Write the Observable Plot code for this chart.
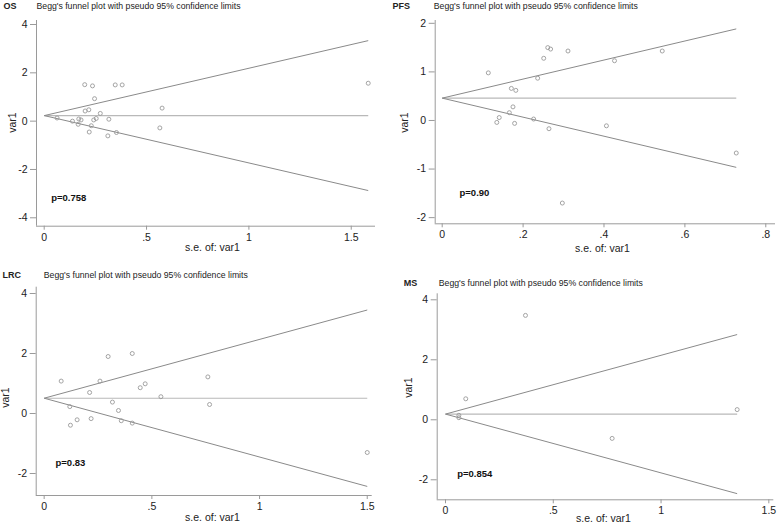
<!DOCTYPE html>
<html>
<head>
<meta charset="utf-8">
<script src="https://cdn.jsdelivr.net/npm/d3@7"></script>
<script src="https://cdn.jsdelivr.net/npm/@observablehq/plot@0.6"></script>
<style>
  html, body { margin: 0; padding: 0; background: #fff; }
  #root { position: relative; width: 778px; height: 523px; overflow: hidden; background: #fff; }
  .panel { position: absolute; }
</style>
</head>
<body>
<div id="root"></div>
<script>
// ---------- data ----------
const titleText = "Begg's funnel plot with pseudo 95% confidence limits";
const xAxisLabel = "s.e. of: var1";
const yAxisLabel = "var1";

// OS
const osSe = [0.063, 0.138, 0.166, 0.169, 0.180, 0.198, 0.200, 0.218, 0.220, 0.230, 0.236, 0.242, 0.246, 0.254, 0.274, 0.311, 0.316, 0.347, 0.353, 0.381, 0.565, 0.576, 1.583];
const osEs = [0.13, 0.00, -0.13, 0.09, 0.05, 1.51, 0.42, 0.47, -0.45, -0.19, 1.46, 0.05, 0.93, 0.11, 0.32, -0.61, 0.08, 1.50, -0.47, 1.50, -0.28, 0.54, 1.57];
const osTheta = 0.23;
const osXTicks = [0, 0.5, 1, 1.5];
const osXTickLabels = ["0", ".5", "1", "1.5"];
const osYTicks = [-4, -2, 0, 2, 4];
const osP = "p=0.758";

// PFS
const pfsSe = [0.114, 0.135, 0.141, 0.166, 0.171, 0.175, 0.179, 0.182, 0.226, 0.236, 0.251, 0.261, 0.264, 0.268, 0.297, 0.311, 0.406, 0.426, 0.544, 0.727];
const pfsEs = [0.98, -0.04, 0.06, 0.16, 0.66, 0.28, -0.06, 0.62, 0.03, 0.87, 1.28, 1.50, -0.17, 1.47, -1.70, 1.43, -0.11, 1.23, 1.43, -0.67];
const pfsTheta = 0.46;
const pfsXTicks = [0, 0.2, 0.4, 0.6, 0.8];
const pfsXTickLabels = ["0", ".2", ".4", ".6", ".8"];
const pfsYTicks = [-2, -1, 0, 1, 2];
const pfsP = "p=0.90";

// LRC
const lrcSe = [0.079, 0.119, 0.122, 0.153, 0.211, 0.218, 0.259, 0.297, 0.317, 0.345, 0.358, 0.409, 0.409, 0.446, 0.469, 0.542, 0.760, 0.768, 1.500];
const lrcEs = [1.08, 0.23, -0.39, -0.21, 0.70, -0.17, 1.08, 1.90, 0.38, 0.10, -0.24, -0.32, 2.00, 0.86, 0.99, 0.56, 1.22, 0.30, -1.30];
const lrcTheta = 0.51;
const lrcXTicks = [0, 0.5, 1, 1.5];
const lrcXTickLabels = ["0", ".5", "1", "1.5"];
const lrcYTicks = [-2, 0, 2, 4];
const lrcP = "p=0.83";

// MS
const msSe = [0.062, 0.062, 0.094, 0.371, 0.773, 1.353];
const msEs = [0.15, 0.07, 0.70, 3.48, -0.62, 0.34];
const msTheta = 0.19;
const msXTicks = [0, 0.5, 1, 1.5];
const msXTickLabels = ["0", ".5", "1", "1.5"];
const msYTicks = [-2, 0, 2, 4];
const msP = "p=0.854";

// ---------- layout (pixels) ----------
const panels = [
  { name: "OS", se: osSe, es: osEs, theta: osTheta, xTicks: osXTicks, xLabels: osXTickLabels, yTicks: osYTicks, p: osP,
    left: 0, top: 0, width: 390, height: 260, mL: 36, mR: 15, mT: 20, mB: 34.3,
    xDomain: [-0.0376, 1.6185], yDomain: [-4.348, 4.166],
    nameAt: [3, 6], titleAt: [36, 6], yLabAt: [12, 122], xLabAt: [212, 247], pAt: [50.7, 197] },
  { name: "PFS", se: pfsSe, es: pfsEs, theta: pfsTheta, xTicks: pfsXTicks, xLabels: pfsXTickLabels, yTicks: pfsYTicks, p: pfsP,
    left: 390, top: 0, width: 388, height: 260, mL: 44.7, mR: 3, mT: 20, mB: 36.7,
    xDomain: [-0.0173, 0.824], yDomain: [-2.127, 2.058],
    nameAt: [2, 6], titleAt: [43.3, 6], yLabAt: [14, 122], xLabAt: [212, 248], pAt: [69, 192.7] },
  { name: "LRC", se: lrcSe, es: lrcEs, theta: lrcTheta, xTicks: lrcXTicks, xLabels: lrcXTickLabels, yTicks: lrcYTicks, p: lrcP,
    left: 0, top: 260, width: 390, height: 263, mL: 35.7, mR: 18.3, mT: 26.7, mB: 28,
    xDomain: [-0.037, 1.523], yDomain: [-2.733, 4.21],
    nameAt: [2, 15], titleAt: [43.3, 15], yLabAt: [5, 137], xLabAt: [212, 257], pAt: [55, 202.3] },
  { name: "MS", se: msSe, es: msEs, theta: msTheta, xTicks: msXTicks, xLabels: msXTickLabels, yTicks: msYTicks, p: msP,
    left: 390, top: 260, width: 388, height: 263, mL: 46.7, mR: 4.7, mT: 33.3, mB: 23.7,
    xDomain: [-0.0385, 1.523], yDomain: [-2.667, 4.2],
    nameAt: [13.3, 22.7], titleAt: [48.3, 22.7], yLabAt: [18, 127], xLabAt: [213, 258], pAt: [66.7, 213.3] }
];

const font = "'Liberation Sans', Arial, sans-serif";
const root = document.getElementById("root");

function label(text, at, P, opts) {
  return Plot.text([text], Object.assign({
    text: d => d,
    frameAnchor: "top-left",
    dx: at[0] - P.mL,
    dy: at[1] - P.mT,
    textAnchor: "start",
    lineAnchor: "middle",
    fill: "#222"
  }, opts));
}

for (const P of panels) {
  const pts = P.se.map((s, i) => ({ se: s, es: P.es[i] }));
  const maxSe = d3.max(P.se);
  const z = 1.96;
  const limits = [
    { kind: "upper", x1: 0, y1: P.theta, x2: maxSe, y2: P.theta + z * maxSe },
    { kind: "lower", x1: 0, y1: P.theta, x2: maxSe, y2: P.theta - z * maxSe },
  ];
  const center = [{ x1: 0, y1: P.theta, x2: maxSe, y2: P.theta }];
  const yFmt = d => (d < 0 ? "-" + Math.abs(d) : String(d));
  const xFmt = d => P.xLabels[P.xTicks.indexOf(d)];

  const chart = Plot.plot({
    width: P.width,
    height: P.height,
    marginLeft: P.mL,
    marginRight: P.mR,
    marginTop: P.mT,
    marginBottom: P.mB,
    style: { fontFamily: font, fontSize: "10px", color: "#222", background: "white", overflow: "visible" },
    x: { domain: P.xDomain, ticks: P.xTicks },
    y: { domain: P.yDomain, ticks: P.yTicks },
    marks: [
      Plot.ruleX([P.xDomain[0]], { stroke: "#9a9a9a", strokeWidth: 1 }),
      Plot.ruleY([P.yDomain[0]], { stroke: "#9a9a9a", strokeWidth: 1 }),
      Plot.axisY({ ticks: P.yTicks, tickFormat: yFmt, tickSize: 6, tickPadding: 3, label: null, stroke: "#9a9a9a", fill: "#222", fontSize: 10.5 }),
      Plot.axisX({ ticks: P.xTicks, tickFormat: xFmt, tickSize: 4, tickPadding: 3, label: null, stroke: "#9a9a9a", fill: "#222", fontSize: 10.5 }),
      Plot.link(center, { x1: "x1", y1: "y1", x2: "x2", y2: "y2", stroke: "#b9b9b9", strokeWidth: 1.1 }),
      Plot.link(limits, { x1: "x1", y1: "y1", x2: "x2", y2: "y2", stroke: "#8a8a8a", strokeWidth: 1 }),
      Plot.dot(pts, { x: "se", y: "es", r: 2, stroke: "#9a9a9a", strokeWidth: 0.9, fill: "none" }),
      label(P.name, P.nameAt, P, { fontWeight: "bold", fontSize: 9 }),
      label(titleText, P.titleAt, P, { fontSize: 8.7 }),
      label(P.p, P.pAt, P, { fontWeight: "bold", fontSize: 9.5, fill: "#111" }),
      label(xAxisLabel, P.xLabAt, P, { textAnchor: "middle", fontSize: 10.5 }),
      Plot.text([yAxisLabel], { text: d => d, frameAnchor: "top-left", dx: P.yLabAt[0] - P.mL, dy: P.yLabAt[1] - P.mT, rotate: -90, textAnchor: "middle", lineAnchor: "middle", fontSize: 10.5, fill: "#222" })
    ]
  });
  const div = document.createElement("div");
  div.className = "panel";
  div.style.left = P.left + "px";
  div.style.top = P.top + "px";
  div.appendChild(chart);
  root.appendChild(div);
}
</script>
</body>
</html>
